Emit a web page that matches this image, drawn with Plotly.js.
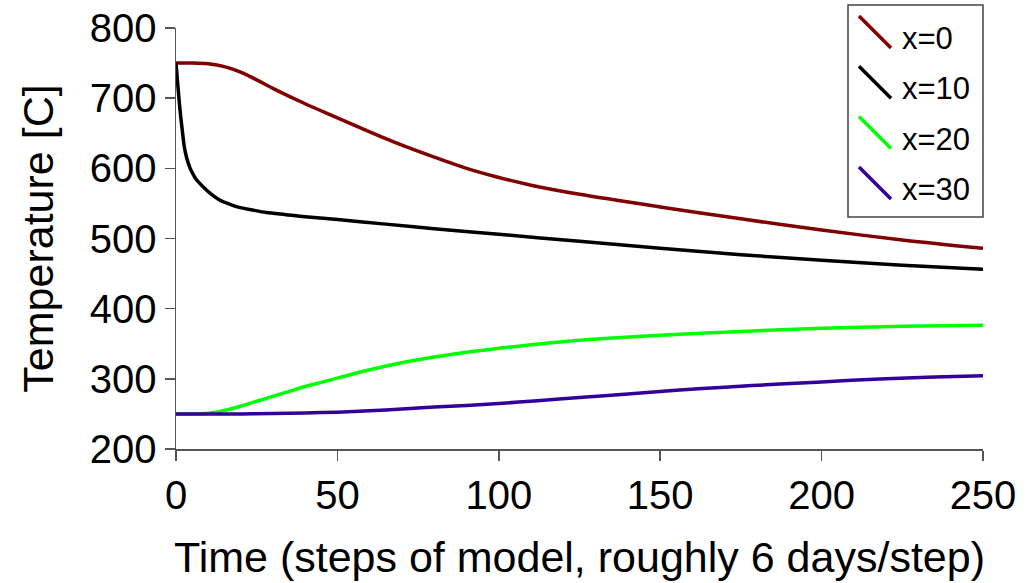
<!DOCTYPE html>
<html>
<head>
<meta charset="utf-8">
<script src="https://cdn.plot.ly/plotly-3.0.1.min.js"></script>
<style>
  html, body { margin: 0; padding: 0; background: #ffffff; }
  #chart { width: 1027px; height: 583px; }
</style>
</head>
<body>
<div id="chart"></div>
<script>
// ---- Data ----
const seriesNames = ["x=0", "x=10", "x=20", "x=30"];
const seriesColors = ["#800000", "#000000", "#00ff00", "#330099"];

const t0 = [0, 5, 10, 15, 20, 25, 30, 40, 50, 60, 70, 80, 90, 100, 110, 125, 150, 175, 200, 225, 250];
const temp0 = [750, 750, 749, 745, 737, 726, 714, 692, 672, 652, 633, 616, 600, 587, 576, 563, 545, 528, 512, 498, 486];

const t10 = [0, 0.5, 1, 1.5, 2, 2.6, 3.3, 4.2, 5, 6, 7.3, 9, 11, 13.5, 16, 19, 23.7, 28, 34, 40, 50, 65, 80, 100, 125, 150, 175, 200, 225, 250];
const temp10 = [750, 722, 695, 672, 652, 630, 615, 602, 594, 586, 579, 571, 563, 555, 550, 545, 540.6, 537, 534, 531, 527, 520.5, 514, 506, 496, 486, 477, 469, 462, 456];

const t20 = [0, 5, 10, 15, 20, 25, 30, 35, 40, 45, 50, 60, 70, 80, 90, 100, 110, 125, 150, 175, 200, 225, 250];
const temp20 = [250, 250, 251, 255, 261, 268, 275, 282, 289, 295, 301, 313, 323, 331, 338, 343.5, 348.5, 355, 362, 367.5, 372, 375, 376.5];

const t30 = [0, 20, 30, 40, 50, 60, 70, 80, 90, 100, 112, 125, 140, 156, 170, 187, 200, 218, 235, 250];
const temp30 = [250, 250, 250.5, 251.3, 252.5, 254.5, 257, 259.7, 262, 264.8, 268.8, 273.3, 278.5, 284, 288, 292.6, 295.6, 299.8, 302.5, 304.5];

const xTickVals = [0, 50, 100, 150, 200, 250];
const yTickVals = [200, 300, 400, 500, 600, 700, 800];
const xTitle = "Time (steps of model, roughly 6 days/step)";
const yTitle = "Temperature [C]";

// ---- Build traces ----
const xs = [t0, t10, t20, t30];
const ys = [temp0, temp10, temp20, temp30];
const traces = xs.map((x, i) => ({
  type: "scatter",
  mode: "lines",
  x: x,
  y: ys[i],
  name: seriesNames[i],
  line: { color: seriesColors[i], width: 3.5, shape: "spline", smoothing: 0.8 },
  showlegend: false,
  hoverinfo: "skip"
}));

// ---- Layout geometry (pixels) ----
const W = 1027, H = 583;
const M = { l: 176, r: 44, t: 28, b: 134 };
const plotW = W - M.l - M.r, plotH = H - M.t - M.b;
const px = x => (x - M.l) / plotW;
const py = y => (H - M.b - y) / plotH;

const FONT = "Liberation Sans, Arial, Helvetica, sans-serif";

// Custom legend (diagonal line samples inside a box)
const shapes = [{
  type: "rect", xref: "paper", yref: "paper",
  x0: px(848), x1: px(983), y0: py(217), y1: py(5),
  line: { color: "#444444", width: 1.5 }, fillcolor: "#ffffff", layer: "above"
}];
const annotations = [];
seriesNames.forEach((nm, i) => {
  const off = 50.3 * i;
  shapes.push({
    type: "line", xref: "paper", yref: "paper",
    x0: px(859), y0: py(16 + off), x1: px(891), y1: py(48 + off),
    line: { color: seriesColors[i], width: 3.5 }, layer: "above"
  });
  annotations.push({
    xref: "paper", yref: "paper",
    x: px(900), y: py(38.5 + off),
    xanchor: "left", yanchor: "middle",
    text: nm, showarrow: false,
    font: { family: FONT, size: 31, color: "#000000" }
  });
});

const layout = {
  width: W, height: H,
  margin: M,
  paper_bgcolor: "#ffffff",
  plot_bgcolor: "#ffffff",
  font: { family: FONT, color: "#000000" },
  showlegend: false,
  xaxis: {
    range: [0, 250],
    tickvals: xTickVals,
    ticks: "outside", ticklen: 10, tickwidth: 1.5, tickcolor: "#555555",
    showline: true, linecolor: "#555555", linewidth: 1.5,
    showgrid: false, zeroline: false,
    tickfont: { family: FONT, size: 40, color: "#000000" },
    title: { text: xTitle, font: { family: FONT, size: 43, color: "#000000" }, standoff: 26 }
  },
  yaxis: {
    range: [200, 800],
    tickvals: yTickVals,
    ticks: "outside", ticklen: 10, tickwidth: 1.5, tickcolor: "#555555",
    showline: true, linecolor: "#555555", linewidth: 1.5,
    showgrid: false, zeroline: false,
    tickfont: { family: FONT, size: 40, color: "#000000" },
    title: { text: yTitle, font: { family: FONT, size: 43, color: "#000000" }, standoff: 22 }
  },
  shapes: shapes,
  annotations: annotations
};

Plotly.newPlot("chart", traces, layout, { staticPlot: true, displayModeBar: false });
</script>
</body>
</html>
